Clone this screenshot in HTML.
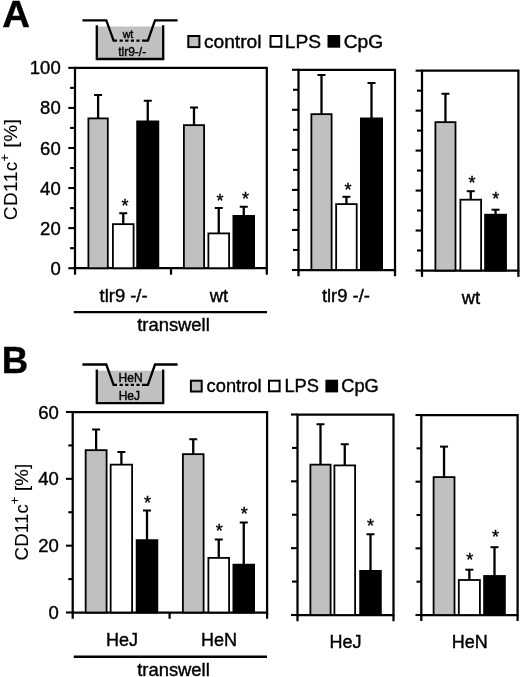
<!DOCTYPE html>
<html><head><meta charset="utf-8"><title>Figure</title>
<style>
html,body{margin:0;padding:0;background:#fff;}
body{width:520px;height:677px;overflow:hidden;}
svg{display:block;filter:grayscale(1);}
text{stroke:#000;stroke-width:.4px;paint-order:stroke;}
</style></head><body>
<svg width="520" height="677" viewBox="0 0 520 677" font-family="'Liberation Sans', sans-serif" fill="#000">
<rect width="520" height="677" fill="#fff"/>
<text transform="translate(2.2,27) scale(1.025,1)" font-size="37.5" font-weight="bold">A</text>
<g transform="translate(0,0)">
<rect x="97.8" y="26.5" width="65.4" height="32.5" fill="#c0c0c0"/>
<path d="M96.8 25.2V59H163.2V25.2" fill="none" stroke="#000" stroke-width="2.3"/>
<path d="M82.4 20.3H106.3L113.6 40.7H117" fill="none" stroke="#000" stroke-width="2.3"/>
<path d="M177.6 20.3H155L147.9 40.7H145" fill="none" stroke="#000" stroke-width="2.3"/>
<path d="M119.6 40.7H145" fill="none" stroke="#000" stroke-width="2.3" stroke-dasharray="3.2 2.4"/>
<text x="128" y="37.6" font-size="10.6" text-anchor="middle">wt</text>
<text x="132.2" y="55.6" font-size="12" text-anchor="middle">tlr9-/-</text>
</g>
<rect x="188.30" y="36.00" width="11.10" height="11.10" fill="#c0c0c0" stroke="#000" stroke-width="2.0"/>
<text x="203.9" y="47.8" font-size="19.2">control</text>
<rect x="270.50" y="36.00" width="10.80" height="10.80" fill="#fff" stroke="#000" stroke-width="2.0"/>
<text x="284.8" y="47.8" font-size="19.2">LPS</text>
<rect x="328.50" y="36.00" width="10.70" height="10.70" fill="#000" stroke="#000" stroke-width="2.0"/>
<text x="343.7" y="47.8" font-size="19.2">CpG</text>
<text transform="translate(17.1,169.5) rotate(-90)" style="stroke-width:.12px" font-size="19" letter-spacing="0.45" text-anchor="middle">CD11c<tspan font-size="12" dy="-8.6">+</tspan><tspan dy="8.6" dx="0.6"> [%]</tspan></text>
<path d="M75.0 67.85H266.8V268.2H75.0Z" fill="none" stroke="#000" stroke-width="2.25"/>
<path d="M68.3 268.20H75.0" stroke="#000" stroke-width="2.1"/>
<path d="M70 248.16H75.0" stroke="#000" stroke-width="2.1"/>
<path d="M68.3 228.13H75.0" stroke="#000" stroke-width="2.1"/>
<path d="M70 208.09H75.0" stroke="#000" stroke-width="2.1"/>
<path d="M68.3 188.06H75.0" stroke="#000" stroke-width="2.1"/>
<path d="M70 168.02H75.0" stroke="#000" stroke-width="2.1"/>
<path d="M68.3 147.99H75.0" stroke="#000" stroke-width="2.1"/>
<path d="M70 127.95H75.0" stroke="#000" stroke-width="2.1"/>
<path d="M68.3 107.92H75.0" stroke="#000" stroke-width="2.1"/>
<path d="M70 87.88H75.0" stroke="#000" stroke-width="2.1"/>
<path d="M68.3 67.85H75.0" stroke="#000" stroke-width="2.1"/>
<path d="M75.0 268.2V274.7" stroke="#000" stroke-width="2.25"/>
<path d="M171.0 268.2V274.7" stroke="#000" stroke-width="2.25"/>
<path d="M266.8 268.2V274.7" stroke="#000" stroke-width="2.25"/>
<text x="60.7" y="274.77" font-size="18.5" text-anchor="end">0</text>
<text x="60.7" y="234.70" font-size="18.5" text-anchor="end">20</text>
<text x="60.7" y="194.63" font-size="18.5" text-anchor="end">40</text>
<text x="60.7" y="154.56" font-size="18.5" text-anchor="end">60</text>
<text x="60.7" y="114.49" font-size="18.5" text-anchor="end">80</text>
<text x="60.7" y="74.42" font-size="18.5" text-anchor="end">100</text>
<path d="M98.10 118.50V95.00" stroke="#000" stroke-width="2.3" fill="none"/>
<path d="M94.10 95.00H102.10" stroke="#000" stroke-width="2" fill="none"/>
<rect x="88.40" y="118.40" width="19.40" height="149.80" fill="#c0c0c0" stroke="#000" stroke-width="1.8"/>
<path d="M123.25 224.25V213.25" stroke="#000" stroke-width="2.3" fill="none"/>
<path d="M119.25 213.25H127.25" stroke="#000" stroke-width="2" fill="none"/>
<rect x="112.90" y="224.15" width="20.70" height="44.05" fill="#fff" stroke="#000" stroke-width="1.8"/>
<path d="M147.75 121.50V100.75" stroke="#000" stroke-width="2.3" fill="none"/>
<path d="M143.75 100.75H151.75" stroke="#000" stroke-width="2" fill="none"/>
<rect x="137.15" y="121.40" width="21.20" height="146.80" fill="#000" stroke="#000" stroke-width="1.8"/>
<path d="M194.00 125.25V107.50" stroke="#000" stroke-width="2.3" fill="none"/>
<path d="M190.00 107.50H198.00" stroke="#000" stroke-width="2" fill="none"/>
<rect x="183.90" y="125.15" width="20.20" height="143.05" fill="#c0c0c0" stroke="#000" stroke-width="1.8"/>
<path d="M218.75 233.50V208.00" stroke="#000" stroke-width="2.3" fill="none"/>
<path d="M214.75 208.00H222.75" stroke="#000" stroke-width="2" fill="none"/>
<rect x="208.40" y="233.40" width="20.70" height="34.80" fill="#fff" stroke="#000" stroke-width="1.8"/>
<path d="M243.75 216.00V206.75" stroke="#000" stroke-width="2.3" fill="none"/>
<path d="M239.75 206.75H247.75" stroke="#000" stroke-width="2" fill="none"/>
<rect x="233.40" y="215.90" width="20.70" height="52.30" fill="#000" stroke="#000" stroke-width="1.8"/>
<text x="125.00" y="211.79" font-size="18" text-anchor="middle">*</text>
<text x="220.00" y="206.79" font-size="18" text-anchor="middle">*</text>
<text x="245.50" y="205.29" font-size="18" text-anchor="middle">*</text>
<path d="M298.5 69.75H395V270H298.5Z" fill="none" stroke="#000" stroke-width="2.25"/>
<path d="M292 270.00H298.5" stroke="#000" stroke-width="2.1"/>
<path d="M293 249.97H298.5" stroke="#000" stroke-width="2.1"/>
<path d="M292 229.95H298.5" stroke="#000" stroke-width="2.1"/>
<path d="M293 209.93H298.5" stroke="#000" stroke-width="2.1"/>
<path d="M292 189.90H298.5" stroke="#000" stroke-width="2.1"/>
<path d="M293 169.88H298.5" stroke="#000" stroke-width="2.1"/>
<path d="M292 149.85H298.5" stroke="#000" stroke-width="2.1"/>
<path d="M293 129.82H298.5" stroke="#000" stroke-width="2.1"/>
<path d="M292 109.80H298.5" stroke="#000" stroke-width="2.1"/>
<path d="M293 89.78H298.5" stroke="#000" stroke-width="2.1"/>
<path d="M292 69.75H298.5" stroke="#000" stroke-width="2.1"/>
<path d="M298.5 270V276.25" stroke="#000" stroke-width="2.25"/>
<path d="M395 270V276.25" stroke="#000" stroke-width="2.25"/>
<path d="M321.50 114.25V75.00" stroke="#000" stroke-width="2.3" fill="none"/>
<path d="M317.50 75.00H325.50" stroke="#000" stroke-width="2" fill="none"/>
<rect x="311.40" y="114.15" width="20.20" height="155.85" fill="#c0c0c0" stroke="#000" stroke-width="1.8"/>
<path d="M346.43 204.20V196.80" stroke="#000" stroke-width="2.3" fill="none"/>
<path d="M342.43 196.80H350.43" stroke="#000" stroke-width="2" fill="none"/>
<rect x="336.15" y="204.10" width="20.55" height="65.90" fill="#fff" stroke="#000" stroke-width="1.8"/>
<path d="M371.50 118.50V83.00" stroke="#000" stroke-width="2.3" fill="none"/>
<path d="M367.50 83.00H375.50" stroke="#000" stroke-width="2" fill="none"/>
<rect x="360.90" y="118.40" width="21.20" height="151.60" fill="#000" stroke="#000" stroke-width="1.8"/>
<text x="348.00" y="195.99" font-size="18" text-anchor="middle">*</text>
<path d="M422 70.65H518.4V270.5H422Z" fill="none" stroke="#000" stroke-width="2.25"/>
<path d="M415.6 270.50H422" stroke="#000" stroke-width="2.1"/>
<path d="M417.0 250.51H422" stroke="#000" stroke-width="2.1"/>
<path d="M415.6 230.53H422" stroke="#000" stroke-width="2.1"/>
<path d="M417.0 210.55H422" stroke="#000" stroke-width="2.1"/>
<path d="M415.6 190.56H422" stroke="#000" stroke-width="2.1"/>
<path d="M417.0 170.57H422" stroke="#000" stroke-width="2.1"/>
<path d="M415.6 150.59H422" stroke="#000" stroke-width="2.1"/>
<path d="M417.0 130.60H422" stroke="#000" stroke-width="2.1"/>
<path d="M415.6 110.62H422" stroke="#000" stroke-width="2.1"/>
<path d="M417.0 90.64H422" stroke="#000" stroke-width="2.1"/>
<path d="M415.6 70.65H422" stroke="#000" stroke-width="2.1"/>
<path d="M422 270.5V276.9" stroke="#000" stroke-width="2.25"/>
<path d="M518.4 270.5V276.9" stroke="#000" stroke-width="2.25"/>
<path d="M445.45 122.25V93.75" stroke="#000" stroke-width="2.3" fill="none"/>
<path d="M441.45 93.75H449.45" stroke="#000" stroke-width="2" fill="none"/>
<rect x="435.40" y="122.15" width="20.10" height="148.35" fill="#c0c0c0" stroke="#000" stroke-width="1.8"/>
<path d="M470.75 199.80V191.20" stroke="#000" stroke-width="2.3" fill="none"/>
<path d="M466.75 191.20H474.75" stroke="#000" stroke-width="2" fill="none"/>
<rect x="460.40" y="199.70" width="20.70" height="70.80" fill="#fff" stroke="#000" stroke-width="1.8"/>
<path d="M495.55 214.80V209.70" stroke="#000" stroke-width="2.3" fill="none"/>
<path d="M491.55 209.70H499.55" stroke="#000" stroke-width="2" fill="none"/>
<rect x="485.10" y="214.70" width="20.90" height="55.80" fill="#000" stroke="#000" stroke-width="1.8"/>
<text x="472.00" y="188.99" font-size="18" text-anchor="middle">*</text>
<text x="495.80" y="204.79" font-size="18" text-anchor="middle">*</text>
<text x="123.6" y="301.75" font-size="18.4" text-anchor="middle">tlr9 -/-</text>
<text x="219" y="301.5" font-size="18.4" text-anchor="middle">wt</text>
<path d="M73.75 312.1H267" stroke="#000" stroke-width="2.4"/>
<text x="173.5" y="331.25" font-size="18.4" text-anchor="middle">transwell</text>
<text x="345.9" y="302.3" font-size="18.4" text-anchor="middle">tlr9 -/-</text>
<text x="470.9" y="303.5" font-size="18.4" text-anchor="middle">wt</text>
<text x="1.7" y="372.8" font-size="36.6" font-weight="bold">B</text>
<g transform="translate(0,344.2)">
<rect x="97.8" y="26.5" width="65.4" height="32.5" fill="#c0c0c0"/>
<path d="M96.8 25.2V59H163.2V25.2" fill="none" stroke="#000" stroke-width="2.3"/>
<path d="M82.4 20.3H106.3L113.6 40.7H117" fill="none" stroke="#000" stroke-width="2.3"/>
<path d="M177.6 20.3H155L147.9 40.7H145" fill="none" stroke="#000" stroke-width="2.3"/>
<path d="M119.6 40.7H145" fill="none" stroke="#000" stroke-width="2.3" stroke-dasharray="3.2 2.4"/>
<text x="130.6" y="38.2" font-size="12" text-anchor="middle">HeN</text>
<text x="129.3" y="55.7" font-size="12" text-anchor="middle">HeJ</text>
</g>
<rect x="190.90" y="380.70" width="10.80" height="10.80" fill="#c0c0c0" stroke="#000" stroke-width="2.0"/>
<text x="206.6" y="392.3" font-size="18.3">control</text>
<rect x="269.00" y="380.70" width="10.60" height="10.60" fill="#fff" stroke="#000" stroke-width="2.0"/>
<text x="284.4" y="392.3" font-size="18.3">LPS</text>
<rect x="326.40" y="380.70" width="10.70" height="10.70" fill="#000" stroke="#000" stroke-width="2.0"/>
<text x="341.2" y="392.3" font-size="18.3">CpG</text>
<text transform="translate(28.2,512) rotate(-90)" style="stroke-width:.12px" font-size="18.6" letter-spacing="0.2" text-anchor="middle">CD11c<tspan font-size="12" dy="-8.8">+</tspan><tspan dy="8.8" dx="0.3"> [%]</tspan></text>
<path d="M72.7 412.0H267.1V612.5H72.7Z" fill="none" stroke="#000" stroke-width="2.25"/>
<path d="M66.0 612.50H72.7" stroke="#000" stroke-width="2.1"/>
<path d="M68.3 579.08H72.7" stroke="#000" stroke-width="2.1"/>
<path d="M66.0 545.67H72.7" stroke="#000" stroke-width="2.1"/>
<path d="M68.3 512.25H72.7" stroke="#000" stroke-width="2.1"/>
<path d="M66.0 478.83H72.7" stroke="#000" stroke-width="2.1"/>
<path d="M68.3 445.42H72.7" stroke="#000" stroke-width="2.1"/>
<path d="M66.0 412.00H72.7" stroke="#000" stroke-width="2.1"/>
<path d="M72.7 612.5V618.75" stroke="#000" stroke-width="2.25"/>
<path d="M169.6 612.5V618.75" stroke="#000" stroke-width="2.25"/>
<path d="M267.1 612.5V618.75" stroke="#000" stroke-width="2.25"/>
<text x="58.8" y="619.07" font-size="18.5" text-anchor="end">0</text>
<text x="58.8" y="552.23" font-size="18.5" text-anchor="end">20</text>
<text x="58.8" y="485.40" font-size="18.5" text-anchor="end">40</text>
<text x="58.8" y="418.57" font-size="18.5" text-anchor="end">60</text>
<path d="M96.12 450.25V429.50" stroke="#000" stroke-width="2.3" fill="none"/>
<path d="M92.12 429.50H100.12" stroke="#000" stroke-width="2" fill="none"/>
<rect x="85.65" y="450.15" width="20.95" height="162.35" fill="#c0c0c0" stroke="#000" stroke-width="1.8"/>
<path d="M121.38 464.75V452.00" stroke="#000" stroke-width="2.3" fill="none"/>
<path d="M117.38 452.00H125.38" stroke="#000" stroke-width="2" fill="none"/>
<rect x="110.65" y="464.65" width="21.45" height="147.85" fill="#fff" stroke="#000" stroke-width="1.8"/>
<path d="M147.00 540.25V510.50" stroke="#000" stroke-width="2.3" fill="none"/>
<path d="M143.00 510.50H151.00" stroke="#000" stroke-width="2" fill="none"/>
<rect x="136.65" y="540.15" width="20.70" height="72.35" fill="#000" stroke="#000" stroke-width="1.8"/>
<path d="M193.25 454.25V439.25" stroke="#000" stroke-width="2.3" fill="none"/>
<path d="M189.25 439.25H197.25" stroke="#000" stroke-width="2" fill="none"/>
<rect x="182.90" y="454.15" width="20.70" height="158.35" fill="#c0c0c0" stroke="#000" stroke-width="1.8"/>
<path d="M218.75 558.00V539.50" stroke="#000" stroke-width="2.3" fill="none"/>
<path d="M214.75 539.50H222.75" stroke="#000" stroke-width="2" fill="none"/>
<rect x="208.40" y="557.90" width="20.70" height="54.60" fill="#fff" stroke="#000" stroke-width="1.8"/>
<path d="M243.75 564.75V522.50" stroke="#000" stroke-width="2.3" fill="none"/>
<path d="M239.75 522.50H247.75" stroke="#000" stroke-width="2" fill="none"/>
<rect x="233.40" y="564.65" width="20.70" height="47.85" fill="#000" stroke="#000" stroke-width="1.8"/>
<text x="147.50" y="508.54" font-size="18" text-anchor="middle">*</text>
<text x="219.25" y="537.29" font-size="18" text-anchor="middle">*</text>
<text x="244.25" y="519.79" font-size="18" text-anchor="middle">*</text>
<path d="M297.5 414.5H393.5V615H297.5Z" fill="none" stroke="#000" stroke-width="2.25"/>
<path d="M291 615.00H297.5" stroke="#000" stroke-width="2.1"/>
<path d="M292 581.58H297.5" stroke="#000" stroke-width="2.1"/>
<path d="M291 548.17H297.5" stroke="#000" stroke-width="2.1"/>
<path d="M292 514.75H297.5" stroke="#000" stroke-width="2.1"/>
<path d="M291 481.33H297.5" stroke="#000" stroke-width="2.1"/>
<path d="M292 447.92H297.5" stroke="#000" stroke-width="2.1"/>
<path d="M291 414.50H297.5" stroke="#000" stroke-width="2.1"/>
<path d="M297.5 615V621.25" stroke="#000" stroke-width="2.25"/>
<path d="M393.5 615V621.25" stroke="#000" stroke-width="2.25"/>
<path d="M320.50 464.75V424.25" stroke="#000" stroke-width="2.3" fill="none"/>
<path d="M316.50 424.25H324.50" stroke="#000" stroke-width="2" fill="none"/>
<rect x="310.40" y="464.65" width="20.20" height="150.35" fill="#c0c0c0" stroke="#000" stroke-width="1.8"/>
<path d="M344.75 465.50V444.25" stroke="#000" stroke-width="2.3" fill="none"/>
<path d="M340.75 444.25H348.75" stroke="#000" stroke-width="2" fill="none"/>
<rect x="334.40" y="465.40" width="20.70" height="149.60" fill="#fff" stroke="#000" stroke-width="1.8"/>
<path d="M370.50 571.00V534.25" stroke="#000" stroke-width="2.3" fill="none"/>
<path d="M366.50 534.25H374.50" stroke="#000" stroke-width="2" fill="none"/>
<rect x="360.15" y="570.90" width="20.70" height="44.10" fill="#000" stroke="#000" stroke-width="1.8"/>
<text x="370.50" y="531.54" font-size="18" text-anchor="middle">*</text>
<path d="M421.3 415H517.6V615H421.3Z" fill="none" stroke="#000" stroke-width="2.25"/>
<path d="M415.5 615.00H421.3" stroke="#000" stroke-width="2.1"/>
<path d="M416.5 581.67H421.3" stroke="#000" stroke-width="2.1"/>
<path d="M415.5 548.33H421.3" stroke="#000" stroke-width="2.1"/>
<path d="M416.5 515.00H421.3" stroke="#000" stroke-width="2.1"/>
<path d="M415.5 481.67H421.3" stroke="#000" stroke-width="2.1"/>
<path d="M416.5 448.33H421.3" stroke="#000" stroke-width="2.1"/>
<path d="M415.5 415.00H421.3" stroke="#000" stroke-width="2.1"/>
<path d="M421.3 615V621" stroke="#000" stroke-width="2.25"/>
<path d="M517.6 615V621" stroke="#000" stroke-width="2.25"/>
<path d="M444.05 477.20V446.60" stroke="#000" stroke-width="2.3" fill="none"/>
<path d="M440.05 446.60H448.05" stroke="#000" stroke-width="2" fill="none"/>
<rect x="433.60" y="477.10" width="20.90" height="137.90" fill="#c0c0c0" stroke="#000" stroke-width="1.8"/>
<path d="M469.35 580.10V569.70" stroke="#000" stroke-width="2.3" fill="none"/>
<path d="M465.35 569.70H473.35" stroke="#000" stroke-width="2" fill="none"/>
<rect x="458.80" y="580.00" width="21.10" height="35.00" fill="#fff" stroke="#000" stroke-width="1.8"/>
<path d="M494.50 576.10V547.20" stroke="#000" stroke-width="2.3" fill="none"/>
<path d="M490.50 547.20H498.50" stroke="#000" stroke-width="2" fill="none"/>
<rect x="484.10" y="576.00" width="20.80" height="39.00" fill="#000" stroke="#000" stroke-width="1.8"/>
<text x="469.70" y="565.99" font-size="18" text-anchor="middle">*</text>
<text x="495.50" y="542.79" font-size="18" text-anchor="middle">*</text>
<text x="121.9" y="646.25" font-size="18" text-anchor="middle">HeJ</text>
<text x="219.1" y="646.25" font-size="18" text-anchor="middle">HeN</text>
<path d="M73.75 656.75H267" stroke="#000" stroke-width="2.4"/>
<text x="173.5" y="676" font-size="18.4" text-anchor="middle">transwell</text>
<text x="345.6" y="647.5" font-size="18" text-anchor="middle">HeJ</text>
<text x="469.7" y="648" font-size="18" text-anchor="middle">HeN</text>
</svg>
</body></html>
